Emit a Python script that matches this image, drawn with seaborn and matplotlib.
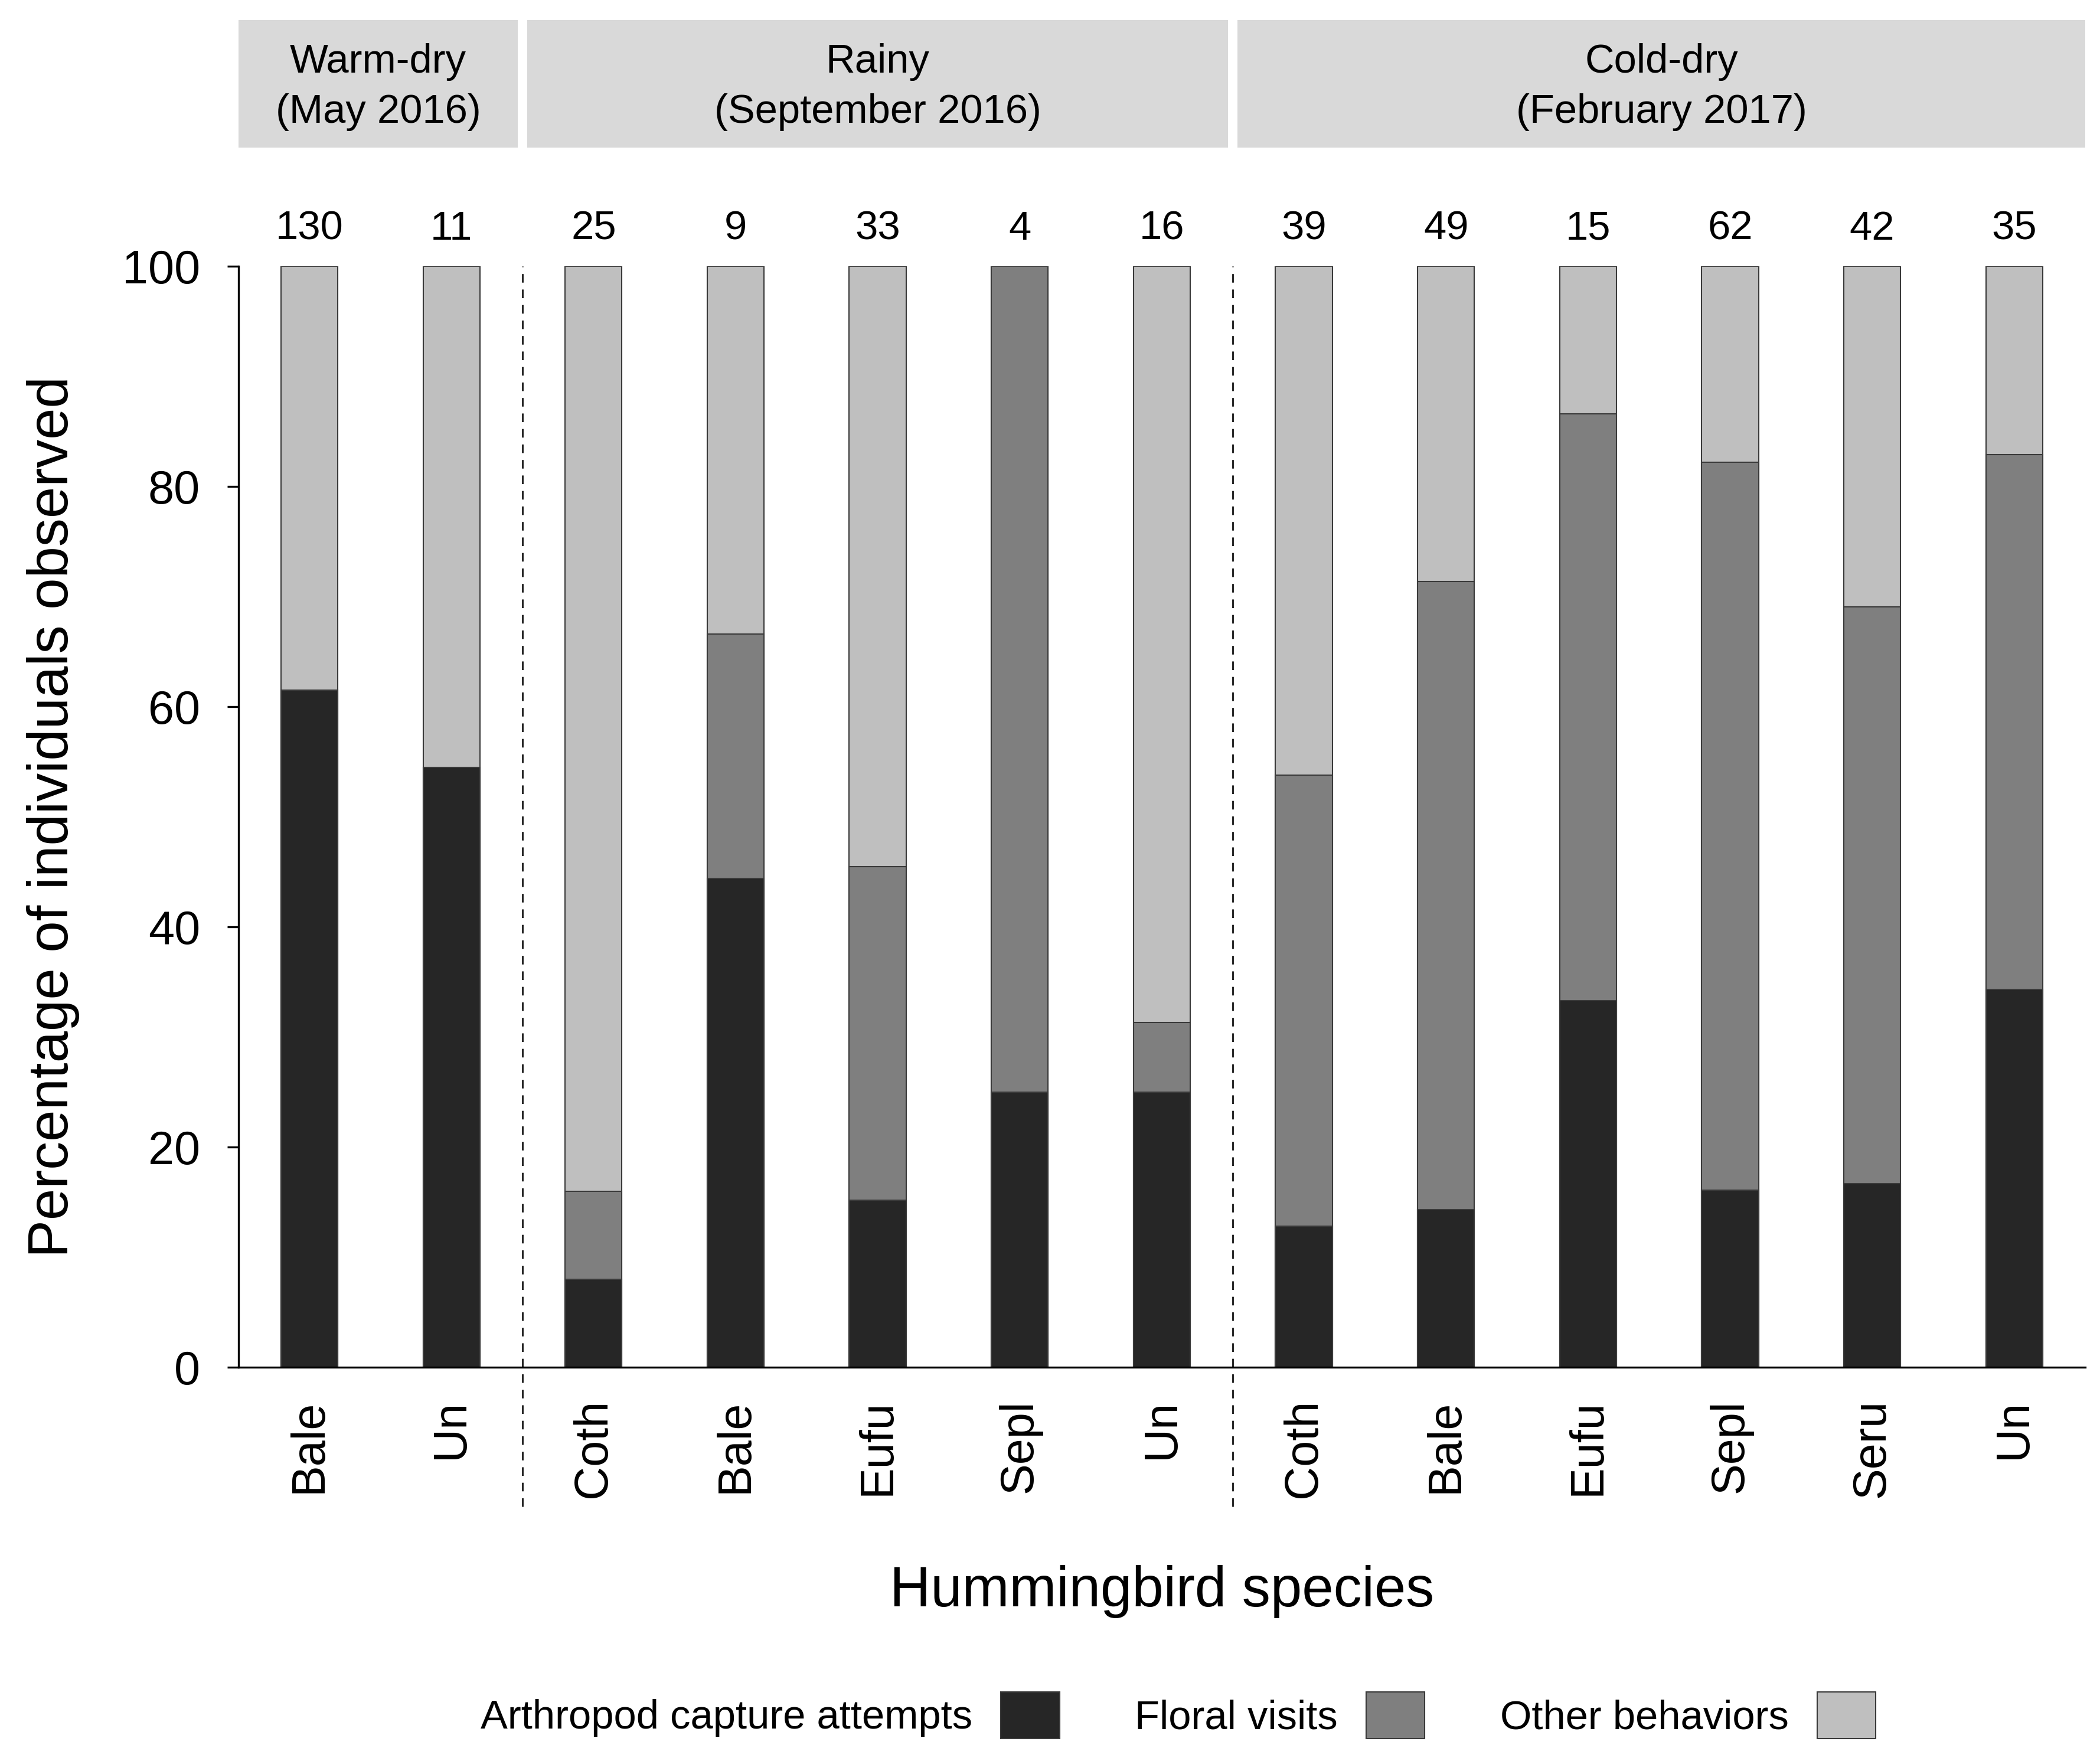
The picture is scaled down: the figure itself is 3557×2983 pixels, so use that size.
import numpy as np
import pandas as pd
import matplotlib
matplotlib.use("Agg")
import matplotlib.pyplot as plt
import matplotlib.transforms as mtransforms
from matplotlib.patches import Patch, Rectangle
import seaborn as sns

# --- data (percent of individuals per behaviour) ---
seasons = ["Warm-dry", "Rainy", "Cold-dry"]
season_titles = ["Warm-dry\n(May 2016)", "Rainy\n(September 2016)", "Cold-dry\n(February 2017)"]
bar_season = ["Warm-dry"] * 2 + ["Rainy"] * 5 + ["Cold-dry"] * 6
species = ["Bale", "Un", "Coth", "Bale", "Eufu", "Sepl", "Un",
           "Coth", "Bale", "Eufu", "Sepl", "Seru", "Un"]
n_obs = [130, 11, 25, 9, 33, 4, 16, 39, 49, 15, 62, 42, 35]
arthropod = [61.5, 54.5, 8.0, 44.4, 15.2, 25.0, 25.0, 12.8, 14.3, 33.3, 16.1, 16.7, 34.3]
floral = [0.0, 0.0, 8.0, 22.2, 30.3, 75.0, 6.3, 41.0, 57.1, 53.3, 66.1, 52.4, 48.6]
other = [38.5, 45.5, 84.0, 33.4, 54.5, 0.0, 68.7, 46.2, 28.6, 13.4, 17.8, 30.9, 17.1]

behaviours = ["Arthropod capture attempts", "Floral visits", "Other behaviors"]
colors = ["#262626", "#7f7f7f", "#bfbfbf"]

df = pd.DataFrame({
    "slot": [f"{s}_{i}" for i, s in enumerate(species)],
    "season": bar_season,
    "species": species,
    "n": n_obs,
    "arthropod": arthropod,
    "floral": floral,
    "other": other,
})
df["top_floral"] = df["arthropod"] + df["floral"]
df["top_other"] = df["top_floral"] + df["other"]

sns.set_style("white")
plt.rcParams["font.family"] = ["Liberation Sans", "DejaVu Sans"]
plt.rcParams["text.color"] = "black"
plt.rcParams["axes.labelcolor"] = "black"
plt.rcParams["xtick.color"] = "black"
plt.rcParams["ytick.color"] = "black"

fig = plt.figure(figsize=(3557 / 300, 2983 / 300), dpi=300)
ax = fig.add_axes([0.1135, 0.2236, 0.8795, 0.6251])

# stacked bars: draw cumulative tops, lightest first
for col, c in zip(["top_other", "top_floral", "arthropod"], colors[::-1]):
    sns.barplot(data=df, x="slot", y=col, order=df["slot"], color=c,
                width=0.4, edgecolor="#3a3a3a", linewidth=0.5,
                errorbar=None, ax=ax)

ax.set_xlim(-0.5, len(df) - 0.5)
ax.set_ylim(0, 100)
ax.set_yticks([0, 20, 40, 60, 80, 100])
ax.set_xticks(range(len(df)))
ax.set_xticklabels(df["species"], rotation=90, fontsize=19)
ax.tick_params(axis="y", labelsize=19, length=4.5, width=0.8, pad=11, left=True, color="black")
ax.tick_params(axis="x", length=0, pad=13)

for side in ["top", "right"]:
    ax.spines[side].set_visible(False)
for side in ["left", "bottom"]:
    ax.spines[side].set_color("black")
    ax.spines[side].set_linewidth(0.8)

ax.set_ylabel("Percentage of individuals observed", fontsize=23)
ax.yaxis.set_label_coords(-0.086, 0.5)
ax.set_xlabel("Hummingbird species", fontsize=23)
ax.xaxis.set_label_coords(0.5, -0.204)
ax.xaxis.label.set_va("center")

trans = mtransforms.blended_transform_factory(ax.transData, ax.transAxes)

# sample sizes above bars
for i, n in enumerate(df["n"]):
    ax.text(i, 1.034, str(n), transform=trans, ha="center", va="center", fontsize=16.5)

# season strips and separators
gap = 0.065
first = [bar_season.index(s) for s in seasons]
last = [len(bar_season) - 1 - bar_season[::-1].index(s) for s in seasons]
for k, (s, title) in enumerate(zip(seasons, season_titles)):
    x0 = first[k] - 0.5 + (gap / 2 if k > 0 else 0)
    x1 = last[k] + 0.5 - (gap / 2 if k < len(seasons) - 1 else 0)
    ax.add_patch(Rectangle((x0, 1.108), x1 - x0, 0.116, transform=trans,
                           facecolor="#d9d9d9", edgecolor="none", clip_on=False))
    ax.text((x0 + x1) / 2, 1.163, title, transform=trans, ha="center", va="center",
            fontsize=16.5, linespacing=1.42)
    if k > 0:
        ax.plot([first[k] - 0.5] * 2, [-0.1265, 1.0], transform=trans, color="#222222",
                linewidth=0.7, linestyle=(0, (5, 4)), clip_on=False)

handles = [Patch(facecolor=c, edgecolor="#3a3a3a", linewidth=0.5) for c in colors]
fig.legend(handles, behaviours, loc="center", bbox_to_anchor=(0.561, 0.026), ncol=3,
           frameon=False, markerfirst=False, fontsize=16.5, handlelength=1.45,
           handleheight=1.4, handletextpad=0.7, columnspacing=1.85)

fig.savefig("out.png", dpi=300)
